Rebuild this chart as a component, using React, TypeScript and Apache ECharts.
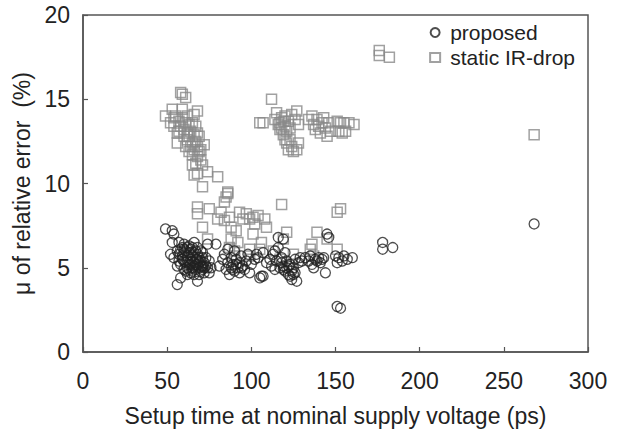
import React, { useEffect, useRef } from "react";
import * as echarts from "echarts";

const xTicks = [0, 50, 100, 150, 200, 250, 300];
const yTicks = [0, 5, 10, 15, 20];
const seriesNames = ["proposed", "static IR-drop"];

const proposed: [number, number][] = [
  [49, 7.3], [53, 7.2], [54, 7.0], [53, 6.5], [57, 6.5], [60, 6.4], [66, 6.5], [68, 6.2], [74, 6.4], [79, 6.4],
  [52, 5.8], [54, 5.6], [56, 5.1], [58, 4.4], [56, 4.0], [62, 4.6], [68, 4.2], [75, 4.7],
  [56, 6.0], [57, 5.8], [58, 6.1], [59, 5.5], [60, 5.9], [61, 5.3], [61, 6.0], [62, 5.7], [63, 5.2], [63, 5.9],
  [64, 5.5], [64, 6.1], [65, 5.0], [65, 5.7], [66, 5.3], [66, 5.9], [67, 4.9], [67, 5.5], [68, 5.2], [68, 5.8],
  [69, 5.0], [69, 5.6], [70, 4.8], [70, 5.4], [71, 5.1], [71, 5.9], [72, 5.3], [72, 4.7], [73, 5.6], [74, 5.0],
  [58, 5.2], [60, 4.9], [62, 5.0], [64, 4.7], [66, 4.6], [59, 6.2], [63, 6.3], [70, 6.0], [57, 5.4], [61, 4.8],
  [65, 6.2], [67, 6.0], [69, 4.6], [73, 5.1], [75, 5.4], [76, 5.0],
  [59, 5.7], [60, 5.4], [62, 5.4], [63, 4.9], [64, 5.2], [65, 5.4], [66, 5.1], [67, 5.2], [68, 5.5], [70, 5.1],
  [71, 5.6], [72, 5.0], [60, 6.1], [62, 6.2], [64, 5.9], [69, 5.3], [65, 4.8], [71, 4.9],
  [81, 5.1], [83, 5.5], [84, 5.8], [85, 4.9], [86, 5.3], [87, 4.6], [88, 5.0], [88, 5.6], [89, 5.2], [90, 4.8],
  [91, 5.5], [92, 5.0], [93, 4.7], [93, 5.3], [94, 5.7], [95, 5.1], [96, 4.9], [97, 5.4], [98, 5.8], [86, 6.1],
  [90, 6.0], [99, 4.7], [100, 5.2], [102, 5.5], [103, 5.8], [105, 4.4], [107, 4.5], [106, 4.5], [104, 5.6],
  [107, 5.9], [109, 5.3], [89, 4.9], [91, 5.2], [94, 5.0],
  [111, 5.5], [112, 5.1], [113, 5.8], [114, 4.9], [115, 5.4], [116, 6.8], [119, 6.7], [117, 5.0], [118, 5.6],
  [119, 5.1], [120, 4.8], [121, 5.4], [122, 4.6], [123, 4.5], [123, 5.2], [124, 4.3], [125, 5.0], [126, 4.7],
  [127, 4.2], [128, 5.3], [120, 5.9], [116, 6.2], [118, 5.3], [121, 5.0], [124, 4.8], [126, 5.5], [129, 5.6],
  [130, 5.4], [114, 6.0], [119, 4.9], [122, 5.1], [125, 4.6],
  [132, 5.6], [134, 5.4], [135, 5.7], [136, 5.2], [137, 5.0], [138, 5.5], [139, 5.4], [140, 5.6], [141, 5.3],
  [142, 5.5], [144, 4.7], [145, 7.0], [146, 6.8], [143, 5.6],
  [150, 5.7], [151, 5.3], [152, 5.6], [154, 5.4], [155, 5.7], [157, 5.5], [160, 5.6], [151, 2.7], [153, 2.6],
  [178, 6.5], [178, 6.1], [184, 6.2], [268, 7.6],
];

const staticIRDrop: [number, number][] = [
  [58, 15.4], [59, 15.3], [61, 15.1], [49, 14.0], [53, 14.4], [59, 14.4], [68, 14.3], [52, 13.6], [54, 13.9],
  [56, 13.0], [56, 12.4], [62, 12.6], [65, 12.4], [68, 13.0], [72, 12.3], [65, 11.7], [68, 11.6], [65, 11.1],
  [71, 11.1], [68, 10.6], [74, 10.7], [80, 10.4], [71, 9.8], [86, 9.4], [85, 9.2],
  [55, 14.0], [57, 13.7], [58, 13.4], [59, 13.9], [60, 13.2], [61, 13.6], [62, 13.0], [62, 14.0], [63, 12.8],
  [63, 13.5], [64, 13.1], [64, 12.2], [65, 13.6], [66, 12.9], [66, 12.0], [67, 12.5], [67, 13.4], [68, 12.2],
  [69, 11.9], [69, 12.8], [70, 11.4], [70, 12.0], [57, 13.1], [60, 12.8], [66, 14.1], [54, 13.4], [61, 12.2],
  [63, 11.9], [67, 11.2], [66, 10.5],
  [112, 15.0], [105, 13.6], [107, 13.6], [115, 14.2], [117, 13.6], [118, 13.9], [118, 13.3], [119, 13.7],
  [120, 13.4], [120, 14.0], [121, 13.1], [119, 12.9], [116, 13.5], [122, 13.7], [123, 13.3], [124, 14.1],
  [127, 14.3], [126, 13.8], [128, 13.5], [121, 12.4], [122, 12.0], [123, 12.6], [124, 12.2], [125, 11.9],
  [127, 12.0], [128, 12.4], [120, 12.6], [117, 13.2], [114, 13.8],
  [134, 13.8], [136, 14.0], [137, 13.5], [138, 13.2], [139, 13.8], [140, 13.4], [141, 13.0], [142, 13.6],
  [143, 13.9], [144, 13.3], [145, 12.8], [146, 13.6], [147, 13.1], [151, 13.7], [152, 13.1], [153, 13.6],
  [154, 13.0], [155, 13.6], [156, 13.1], [158, 13.6], [161, 13.5],
  [176, 17.9], [176, 17.6], [182, 17.5], [268, 12.9],
  [86, 9.5], [84, 8.9], [68, 8.6], [68, 8.2], [75, 8.5], [82, 8.3], [87, 8.0], [93, 8.3], [97, 8.2], [101, 8.0],
  [104, 8.1], [108, 7.9], [109, 7.4], [118, 8.75], [71, 7.4], [80, 7.9], [88, 7.4], [91, 7.2], [101, 7.0],
  [74, 6.7], [88, 6.7], [106, 6.5], [121, 7.1], [119, 6.7], [139, 7.1], [145, 6.7], [136, 6.4], [135, 6.1],
  [151, 6.1], [151, 8.3], [153, 8.5], [87, 6.2], [90, 6.0], [99, 6.1], [105, 6.1], [113, 6.0], [117, 5.5],
  [125, 5.8], [124, 5.2], [137, 5.7], [90, 5.7], [99, 5.7], [95, 7.9], [99, 7.9], [102, 7.6], [84, 7.8], [92, 6.5],
];

const FONT = "'Liberation Sans', Arial, Helvetica, sans-serif";

export default function App() {
  const ref = useRef<HTMLDivElement>(null);
  useEffect(() => {
    if (!ref.current) return;
    const chart = echarts.init(ref.current, undefined, { renderer: "svg" });
    const axisLine = { show: true, lineStyle: { color: "#555", width: 1.5 } };
    chart.setOption({
      animation: false,
      backgroundColor: "#fff",
      grid: { left: 83, right: 30, top: 15, bottom: 83, show: true, borderColor: "#555", borderWidth: 1.5 },
      legend: {
        orient: "vertical",
        right: 38,
        top: 17,
        itemWidth: 10,
        itemHeight: 9,
        itemGap: 4,
        textStyle: { fontFamily: FONT, fontSize: 21, color: "#222", padding: [0, 0, 0, 5] },
        data: seriesNames,
      },
      xAxis: {
        type: "value",
        min: xTicks[0],
        max: xTicks[xTicks.length - 1],
        interval: 50,
        name: "Setup time at nominal supply voltage (ps)",
        nameLocation: "middle",
        nameGap: 52,
        nameTextStyle: { fontFamily: FONT, fontSize: 23, color: "#222" },
        axisLine,
        axisTick: { show: true, inside: true, length: 5, lineStyle: { color: "#555", width: 1.2 } },
        axisLabel: { fontFamily: FONT, fontSize: 23, color: "#222", margin: 17 },
        splitLine: { show: false },
      },
      yAxis: {
        type: "value",
        min: yTicks[0],
        max: yTicks[yTicks.length - 1],
        interval: 5,
        name: "\u03bc of relative error  (%)",
        nameLocation: "middle",
        nameGap: 42,
        nameTextStyle: { fontFamily: FONT, fontSize: 23, color: "#222" },
        axisLine,
        axisTick: { show: true, inside: true, length: 5, lineStyle: { color: "#555", width: 1.2 } },
        axisLabel: { fontFamily: FONT, fontSize: 23, color: "#222", margin: 13 },
        splitLine: { show: false },
      },
      series: [
        {
          name: seriesNames[0],
          type: "scatter",
          data: proposed,
          symbol: "circle",
          symbolSize: 10,
          itemStyle: { color: "rgba(0,0,0,0)", borderColor: "#222", borderWidth: 1.3 },
          z: 3,
        },
        {
          name: seriesNames[1],
          type: "scatter",
          data: staticIRDrop,
          symbol: "rect",
          symbolSize: 10,
          itemStyle: { color: "rgba(0,0,0,0)", borderColor: "#8a8a8a", borderWidth: 1.5 },
          z: 2,
        },
      ],
    });
    return () => chart.dispose();
  }, []);
  return <div ref={ref} style={{ width: 618, height: 435, position: "absolute", left: 0, top: 0 }} />;
}
